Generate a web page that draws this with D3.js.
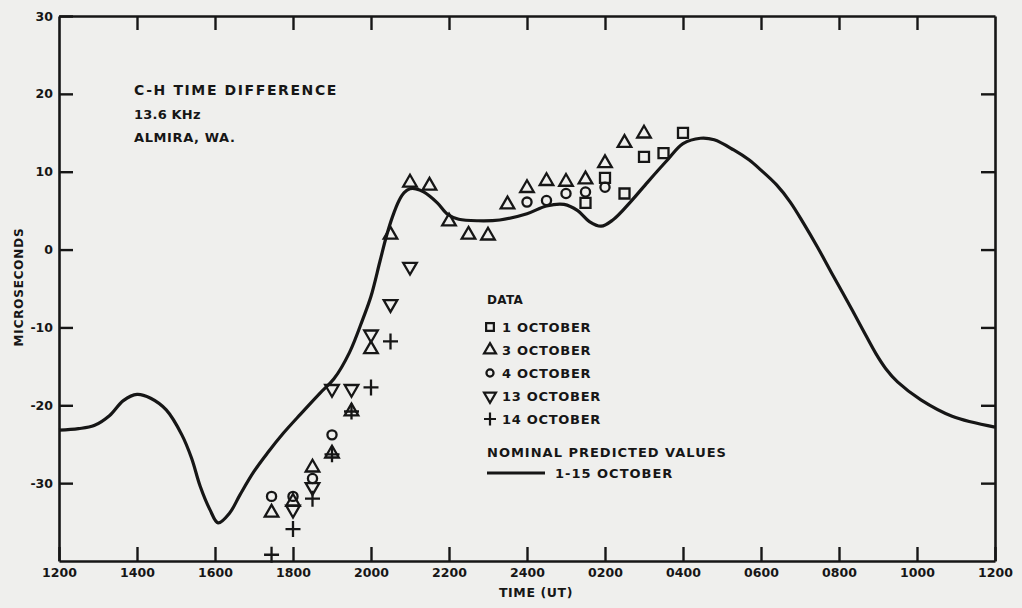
<!DOCTYPE html>
<html>
<head>
<meta charset="utf-8">
<script src="https://cdn.jsdelivr.net/npm/d3@7/dist/d3.min.js"></script>
<style>
  html, body { margin: 0; padding: 0; background: #efefed; }
  svg { display: block; }
  text { font-family: "DejaVu Sans", sans-serif; font-weight: bold; fill: #161616; }
</style>
</head>
<body>
<svg id="chart" width="1022" height="608"></svg>
<script>
// ---------- data ----------
// time expressed in hours counted from 1200 UT (12 = 1200, 24 = 2400, 36 = 1200 next day)
const xTickHours  = [12, 14, 16, 18, 20, 22, 24, 26, 28, 30, 32, 34, 36];
const xTickLabels = ["1200", "1400", "1600", "1800", "2000", "2200", "2400", "0200", "0400", "0600", "0800", "1000", "1200"];
const yTickValues = [-30, -20, -10, 0, 10, 20, 30];
const yTickLabels = ["-30", "-20", "-10", "0", "10", "20", "30"];

// Nominal predicted values 1-15 October
const curveHours  = [12.0, 12.5, 12.9, 13.3, 13.65, 14.0, 14.35, 14.75, 15.15, 15.4, 15.62, 15.87, 16.08, 16.38, 16.64, 17.0, 17.35, 17.75, 18.2, 18.7, 19.05, 19.45, 19.8, 20.0, 20.23, 20.4, 20.55, 20.72, 20.85, 21.0, 21.15, 21.35, 21.7, 21.97, 22.25, 22.75, 23.3, 24.0, 24.5, 24.95, 25.3, 25.6, 25.9, 26.2, 26.65, 27.1, 27.6, 28.0, 28.45, 28.8, 29.3, 29.7, 30.0, 30.4, 30.75, 31.1, 31.45, 31.8, 32.2, 32.6, 32.95, 33.2, 33.5, 34.1, 34.9, 36.0];
const curveValues = [-23.2, -23.0, -22.6, -21.3, -19.4, -18.6, -19.1, -20.6, -23.8, -26.8, -30.4, -33.4, -35.1, -33.8, -31.5, -28.5, -26.1, -23.6, -21.1, -18.4, -16.6, -13.2, -8.8, -6.0, -1.5, 1.8, 4.2, 6.3, 7.3, 7.8, 7.8, 7.4, 6.0, 4.5, 3.9, 3.7, 3.8, 4.6, 5.6, 5.8, 5.0, 3.6, 3.0, 3.8, 6.1, 8.7, 11.5, 13.6, 14.3, 14.1, 12.8, 11.5, 10.2, 8.3, 6.1, 3.3, 0.3, -2.9, -6.5, -10.2, -13.4, -15.3, -17.0, -19.3, -21.4, -22.8];

// 1 October (squares)
const oct1Hours  = [25.5, 26.0, 26.5, 27.0, 27.5, 28.0];
const oct1Values = [6.0, 9.2, 7.2, 11.9, 12.4, 15.0];
// 3 October (triangles)
const oct3Hours  = [17.45, 18.0, 18.5, 19.0, 19.5, 20.0, 20.5, 21.0, 21.5, 22.0, 22.5, 23.0, 23.5, 24.0, 24.5, 25.0, 25.5, 26.0, 26.5, 27.0];
const oct3Values = [-33.8, -32.4, -28.0, -26.2, -20.8, -12.8, 1.9, 8.6, 8.2, 3.6, 1.9, 1.8, 5.8, 7.9, 8.8, 8.7, 9.0, 11.1, 13.7, 14.9];
// 4 October (circles)
const oct4Hours  = [17.45, 18.0, 18.5, 19.0, 24.0, 24.5, 25.0, 25.5, 26.0];
const oct4Values = [-31.7, -31.7, -29.4, -23.8, 6.1, 6.3, 7.2, 7.4, 8.0];
// 13 October (inverted triangles)
const oct13Hours  = [18.0, 18.5, 19.0, 19.5, 20.0, 20.5, 21.0];
const oct13Values = [-33.4, -30.5, -17.9, -17.9, -10.9, -7.0, -2.2];
// 14 October (crosses)
const oct14Hours  = [17.45, 18.0, 18.5, 19.0, 19.5, 20.0, 20.5];
const oct14Values = [-39.2, -35.9, -32.0, -26.3, -20.8, -17.7, -11.8];

const legendLabels = ["1 OCTOBER", "3 OCTOBER", "4 OCTOBER", "13 OCTOBER", "14 OCTOBER"];

// ---------- drawing ----------
const ink = "#161616";
const svg = d3.select("#chart");
const x = d3.scaleLinear().domain([12, 36]).range([59, 995]);
const y = d3.scaleLinear().domain([-40, 30]).range([561, 16]);

const tickLen = 14;
function styleAxis(g) {
  g.selectAll("path.domain").attr("stroke", ink).attr("stroke-width", 2.6);
  g.selectAll(".tick line").attr("stroke", ink).attr("stroke-width", 2.4);
  g.selectAll(".tick text").attr("fill", ink)
    .style("font-family", "'DejaVu Sans', sans-serif")
    .style("font-weight", "bold").style("font-size", "12.5px");
}

// bottom axis with labels
svg.append("g").attr("transform", `translate(0,${y(-40)})`)
  .call(d3.axisBottom(x).tickValues(xTickHours).tickSizeInner(-tickLen).tickSizeOuter(0)
    .tickPadding(7).tickFormat((d, i) => xTickLabels[i]))
  .call(styleAxis);
// top axis
svg.append("g").attr("transform", `translate(0,${y(30)})`)
  .call(d3.axisTop(x).tickValues(xTickHours.slice(1, -1)).tickSizeInner(-tickLen).tickSizeOuter(0).tickFormat(""))
  .call(styleAxis);
// left axis with labels
svg.append("g").attr("transform", `translate(${x(12)},0)`)
  .call(d3.axisLeft(y).tickValues(yTickValues).tickSizeInner(-tickLen).tickSizeOuter(0)
    .tickPadding(6).tickFormat((d, i) => yTickLabels[i]))
  .call(styleAxis);
// right axis
svg.append("g").attr("transform", `translate(${x(36)},0)`)
  .call(d3.axisRight(y).tickValues(yTickValues.slice(0, -1)).tickSizeInner(-tickLen).tickSizeOuter(0).tickFormat(""))
  .call(styleAxis);

// axis titles
svg.append("text").attr("x", 536).attr("y", 597).attr("text-anchor", "middle")
  .style("font-size", "12.5px").style("letter-spacing", "0.6px").text("TIME (UT)");
svg.append("text").attr("transform", "translate(23,287) rotate(-90)").attr("text-anchor", "middle")
  .style("font-size", "12px").style("letter-spacing", "0.8px").text("MICROSECONDS");

// annotation
svg.append("text").attr("x", 134).attr("y", 95).style("font-size", "14px").style("letter-spacing", "1.6px").text("C-H TIME DIFFERENCE");
svg.append("text").attr("x", 134).attr("y", 119).style("font-size", "13px").style("letter-spacing", "0.2px").text("13.6 KHz");
svg.append("text").attr("x", 134).attr("y", 142).style("font-size", "13px").style("letter-spacing", "0.6px").text("ALMIRA, WA.");

// predicted curve
const curvePts = curveHours.map((h, i) => [h, curveValues[i]]);
svg.append("path").datum(curvePts)
  .attr("fill", "none").attr("stroke", ink).attr("stroke-width", 3.2).attr("stroke-linejoin", "round")
  .attr("d", d3.line().x(d => x(d[0])).y(d => y(d[1])).curve(d3.curveCatmullRom.alpha(0.5)));

// marker shapes
const shapes = {
  square:  d3.symbol().type(d3.symbolSquare).size(100)(),
  tri:     d3.symbol().type(d3.symbolTriangle).size(80)(),
  circle:  d3.symbol().type(d3.symbolCircle).size(66)(),
  cross:   "M-7.5,0H7.5M0,-8V8"
};
function drawSeries(hours, values, kind) {
  const pts = hours.map((h, i) => [h, values[i]]);
  svg.append("g").selectAll("path").data(pts).join("path")
    .attr("transform", d => `translate(${x(d[0])},${y(d[1])})` + (kind === "inv" ? " rotate(180)" : ""))
    .attr("d", kind === "inv" ? shapes.tri : shapes[kind])
    .attr("fill", "none").attr("stroke", ink).attr("stroke-width", 2.3);
}
drawSeries(oct1Hours, oct1Values, "square");
drawSeries(oct3Hours, oct3Values, "tri");
drawSeries(oct4Hours, oct4Values, "circle");
drawSeries(oct13Hours, oct13Values, "inv");
drawSeries(oct14Hours, oct14Values, "cross");

// legend
const lg = svg.append("g");
lg.append("text").attr("x", 487).attr("y", 304).style("font-size", "12px").style("letter-spacing", "0.3px").text("DATA");
const legendKinds = ["square", "tri", "circle", "inv", "cross"];
const legendShapes = {
  square: d3.symbol().type(d3.symbolSquare).size(60)(),
  tri:    d3.symbol().type(d3.symbolTriangle).size(62)(),
  circle: d3.symbol().type(d3.symbolCircle).size(40)(),
  cross:  "M-6,0H6M0,-6.5V6.5"
};
const rowY = [327, 350, 373, 396, 419];
legendKinds.forEach((k, i) => {
  lg.append("path")
    .attr("transform", `translate(490,${rowY[i]})` + (k === "inv" ? " rotate(180)" : ""))
    .attr("d", k === "inv" ? legendShapes.tri : legendShapes[k])
    .attr("fill", "none").attr("stroke", ink).attr("stroke-width", 2.2);
  lg.append("text").attr("x", 502).attr("y", rowY[i] + 5).style("font-size", "13px").style("letter-spacing", "0.7px").text(legendLabels[i]);
});
lg.append("text").attr("x", 487).attr("y", 457).style("font-size", "13px").style("letter-spacing", "1px").text("NOMINAL PREDICTED VALUES");
lg.append("line").attr("x1", 487).attr("x2", 545).attr("y1", 473).attr("y2", 473).attr("stroke", ink).attr("stroke-width", 2.8);
lg.append("text").attr("x", 555).attr("y", 478).style("font-size", "13px").style("letter-spacing", "1px").text("1-15 OCTOBER");
</script>
</body>
</html>
